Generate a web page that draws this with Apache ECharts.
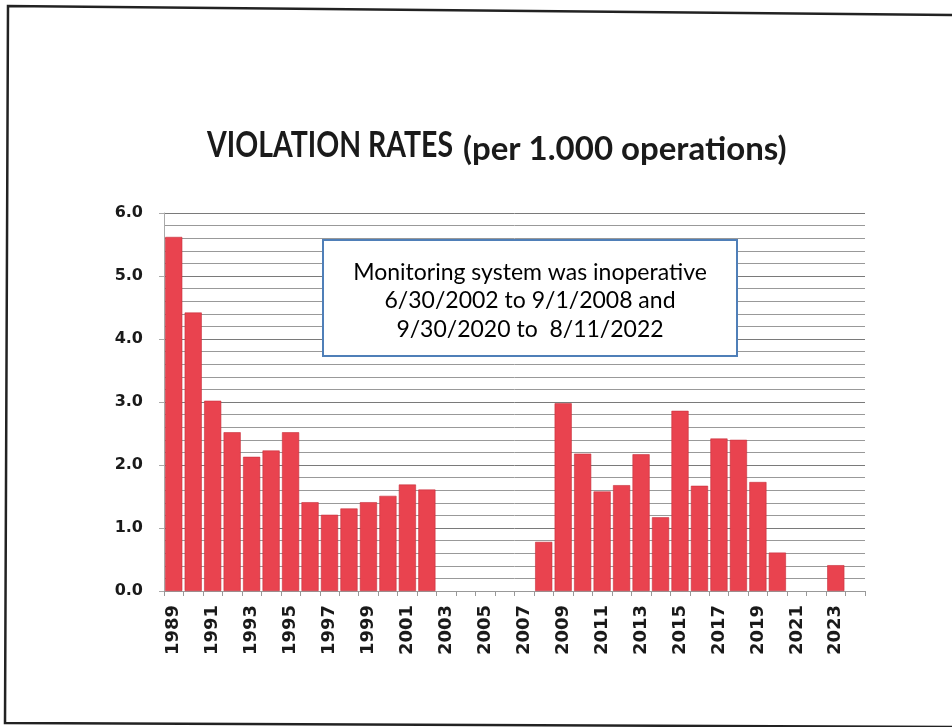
<!DOCTYPE html>
<html>
<head>
<meta charset="utf-8">
<script src="https://cdn.jsdelivr.net/npm/echarts@6/dist/echarts.min.js"></script>
<style>
  html, body { margin: 0; padding: 0; background: #fff; }
  #main { width: 952px; height: 727px; }
</style>
</head>
<body>
<div id="main"></div>
<script>
// years 1989..2024, null = no data (system inoperative)
var years = [];
for (var y = 1989; y <= 2024; y++) years.push(String(y));

var rates = [
  5.62, 4.42, 3.02, 2.52, 2.13, 2.23, 2.52, 1.41, 1.21, 1.31,
  1.41, 1.51, 1.69, 1.61, null, null, null, null, null, 0.78,
  2.98, 2.18, 1.58, 1.68, 2.17, 1.17, 2.86, 1.67, 2.42, 2.40,
  1.73, 0.61, null, null, 0.41, null
];

var yTicks = [0, 1, 2, 3, 4, 5, 6];

var titleMain = 'VIOLATION RATES';
var titleSub = '(per 1.000 operations)';

var noteLines = [
  'Monitoring system was inoperative',
  '6/30/2002 to 9/1/2008 and',
  '9/30/2020 to  8/11/2022'
];

var chart = echarts.init(document.getElementById('main'));

var option = {
  backgroundColor: '#fff',
  animation: false,
  grid: { left: 164, right: 87, top: 213, bottom: 136 },
  xAxis: {
    type: 'category',
    data: years,
    boundaryGap: true,
    axisLine: { lineStyle: { color: '#999', width: 1 } },
    axisTick: { show: true, interval: 0, length: 5, lineStyle: { color: '#999' } },
    axisLabel: {
      interval: 1,
      rotate: 90,
      margin: 14,
      fontFamily: 'DejaVu Sans',
      fontWeight: 'bold',
      fontSize: 18,
      color: '#1a1a1a'
    }
  },
  yAxis: {
    type: 'value',
    min: yTicks[0],
    max: yTicks[yTicks.length - 1],
    interval: 1,
    axisLine: { show: true, lineStyle: { color: '#aaa' } },
    axisTick: { show: true, length: 5, lineStyle: { color: '#aaa' } },
    axisLabel: {
      margin: 21,
      formatter: function (v) { return v.toFixed(1); },
      fontFamily: 'DejaVu Sans',
      fontWeight: 'bold',
      fontSize: 16,
      color: '#1a1a1a'
    },
    splitLine: { show: true, lineStyle: { color: '#7a7a7a', width: 1 } },
    minorTick: { show: false, splitNumber: 5 },
    minorSplitLine: { show: true, lineStyle: { color: '#999', width: 1 } }
  },
  series: [{
    type: 'bar',
    data: rates,
    barCategoryGap: '12%',
    itemStyle: { color: '#e9434f', borderColor: '#c8303c', borderWidth: 0.6 }
  }],
  graphic: [
    {
      type: 'text',
      x: 207, y: 163,
      scaleX: 0.79,
      style: {
        text: titleMain,
        fill: '#1a1a1a',
        fontFamily: 'Lato',
        fontWeight: 'bold',
        fontSize: 36,
        align: 'left',
        verticalAlign: 'bottom'
      }
    },
    {
      type: 'text',
      x: 463, y: 166,
      style: {
        text: titleSub,
        fill: '#1a1a1a',
        fontFamily: 'Lato',
        fontWeight: 'bold',
        fontSize: 33,
        align: 'left',
        verticalAlign: 'bottom'
      }
    },
    {
      type: 'rect',
      shape: { x: 323, y: 240, width: 414, height: 116 },
      style: { fill: '#fff', stroke: '#4f7fb8', lineWidth: 2 },
      z: 100
    },
    {
      type: 'text',
      x: 530, y: 301,
      z: 101,
      style: {
        text: noteLines.join('\n'),
        fill: '#000',
        fontFamily: 'Lato',
        fontSize: 23,
        lineHeight: 28.5,
        align: 'center',
        verticalAlign: 'middle'
      }
    },
    {
      type: 'polyline',
      shape: { points: [[960, 15], [8, 6], [5, 723], [960, 727]] },
      style: { stroke: '#222', lineWidth: 2.5, fill: null },
      z: 100
    }
  ]
};

chart.setOption(option);
</script>
</body>
</html>
